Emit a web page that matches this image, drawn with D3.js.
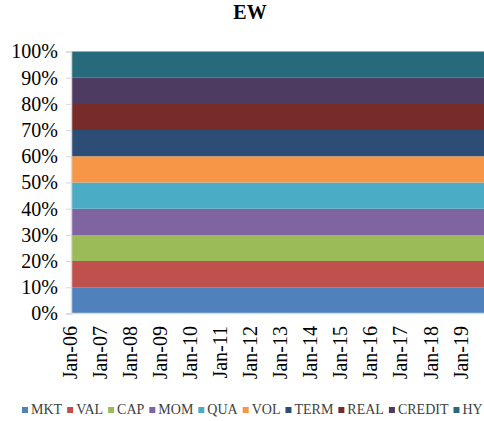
<!DOCTYPE html>
<html>
<head>
<meta charset="utf-8">
<script src="https://cdn.jsdelivr.net/npm/d3@7"></script>
<style>
  body { margin: 0; background: #fff; }
  svg { display: block; font-family: "Liberation Serif", "Times New Roman", serif; }
</style>
</head>
<body>
<svg id="chart" width="484" height="421"></svg>
<script>
// factors and their (equal) weights
const factors = ["MKT", "VAL", "CAP", "MOM", "QUA", "VOL", "TERM", "REAL", "CREDIT", "HY"]
const weights = [0.1, 0.1, 0.1, 0.1, 0.1, 0.1, 0.1, 0.1, 0.1, 0.1]
const colors = ["#4F81BD", "#C0504D", "#9BBB59", "#8064A2", "#4BACC6", "#F79646", "#2C4D75", "#772C2A", "#4D3B62", "#276A7C"]
const startMonth = new Date(2006, 0, 1)
const endMonth = new Date(2019, 9, 1)
const yTicks = [0, 0.1, 0.2, 0.3, 0.4, 0.5, 0.6, 0.7, 0.8, 0.9, 1]

let svg = d3.select("#chart")

// months Jan-06 .. Oct-19, every factor held at its weight
let months = d3.timeMonth.range(startMonth, d3.timeMonth.offset(endMonth, 1))
let rows = months.map(function (m) {
    let r = {date: m}
    factors.forEach(function (f, i) { r[f] = weights[i] })
    return r
})

let x = d3.scaleTime().domain([startMonth, endMonth]).range([71, 484])
let y = d3.scaleLinear().domain([0, 1]).range([313.5, 51.5])

let stack = d3.stack().keys(factors)
let series = stack(rows)

let area = d3.area()
    .x(function (d) { return x(d.data.date) })
    .y0(function (d) { return y(d[0]) })
    .y1(function (d) { return y(d[1]) })

svg.append("g")
    .selectAll("path")
    .data(series)
    .enter()
    .append("path")
    .attr("d", area)
    .attr("fill", function (d, i) { return colors[i] })

// y axis
let yAxis = svg.append("g")
    .attr("transform", "translate(71,0)")
    .call(d3.axisLeft(y).tickValues(yTicks).tickFormat(d3.format(".0%")).tickSize(5).tickPadding(8))
yAxis.attr("font-family", null)
yAxis.select(".domain").attr("stroke", "#d9d9d9").attr("stroke-width", 1.5)
yAxis.selectAll(".tick line").attr("stroke", "#d9d9d9")
yAxis.selectAll("text")
    .style("font-family", "'Liberation Serif', serif")
    .style("font-size", "20px")
    .attr("fill", "#000")

// bottom baseline
svg.append("line")
    .attr("x1", 71).attr("x2", 484)
    .attr("y1", y(0)).attr("y2", y(0))
    .attr("stroke", "#d9d9d9")
    .attr("stroke-width", 1.5)

// x labels, one per January
let janTicks = d3.timeYear.range(startMonth, endMonth)
svg.append("g")
    .selectAll("text")
    .data(janTicks)
    .enter()
    .append("text")
    .attr("transform", function (d) { return "translate(" + (x(d) + 6) + ",326) rotate(-90)" })
    .attr("text-anchor", "end")
    .style("font-size", "20px")
    .attr("fill", "#000")
    .text(d3.timeFormat("%b-%y"))

// title
svg.append("text")
    .attr("x", 250)
    .attr("y", 19)
    .attr("text-anchor", "middle")
    .style("font-size", "20px")
    .style("font-weight", "bold")
    .text("EW")

// legend
let legend = svg.append("g").attr("transform", "translate(22,414)")
let lx = 0
factors.forEach(function (f, i) {
    legend.append("rect")
        .attr("x", lx).attr("y", -7)
        .attr("width", 6).attr("height", 6)
        .attr("fill", colors[i])
    let t = legend.append("text")
        .attr("x", lx + 9).attr("y", 0)
        .style("font-size", "14px")
        .attr("fill", "#404040")
        .text(f)
    lx += 9 + t.node().getComputedTextLength() + 5
})
</script>
</body>
</html>
